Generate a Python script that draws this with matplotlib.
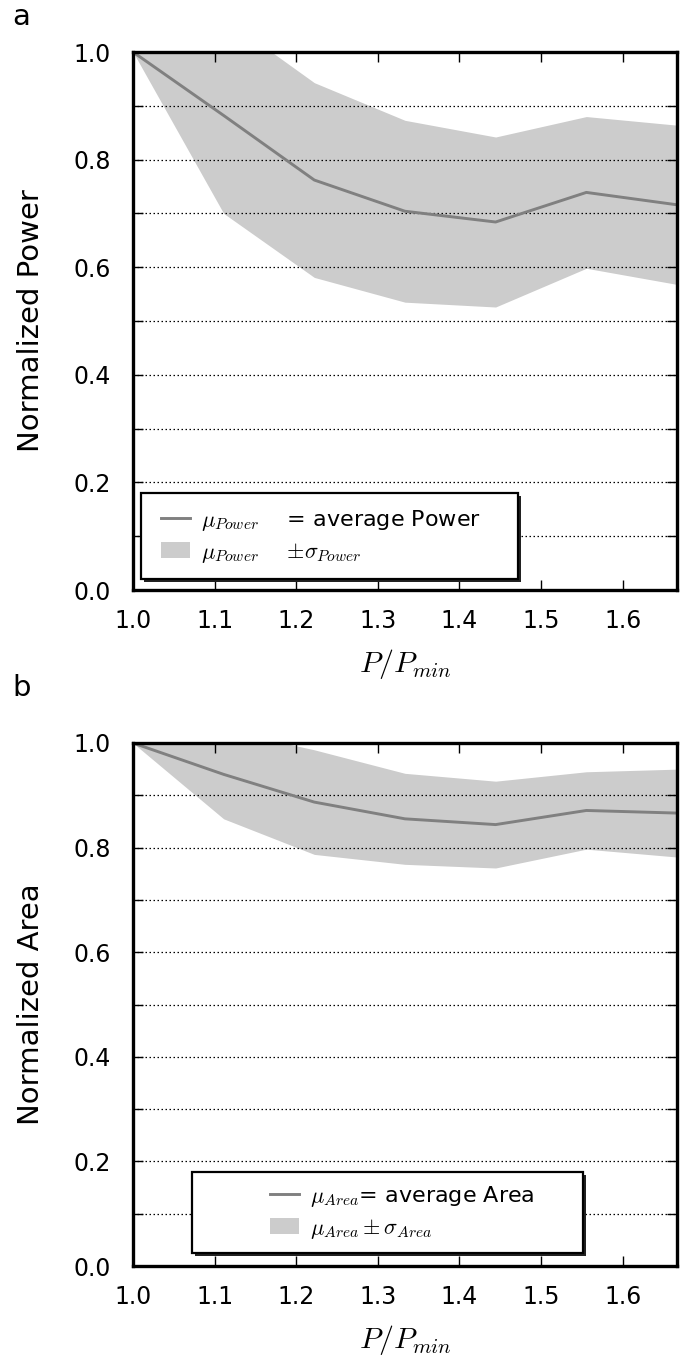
import matplotlib
matplotlib.use("Agg")
import matplotlib.pyplot as plt
import numpy as np
from matplotlib.patches import Rectangle
from matplotlib.lines import Line2D
from matplotlib.ticker import MultipleLocator

plt.rcParams['font.family'] = ['DejaVu Sans']
plt.rcParams['mathtext.fontset'] = 'cm'

# ---- data ----
ratio = [1.0, 1.1111, 1.2222, 1.3333, 1.4444, 1.5556, 1.6667]
power_mean = [1.0, 0.882, 0.762, 0.704, 0.684, 0.739, 0.716]
power_std = [0.0, 0.182, 0.181, 0.169, 0.158, 0.141, 0.148]
area_mean = [1.0, 0.940, 0.887, 0.855, 0.844, 0.871, 0.866]
area_std = [0.0, 0.085, 0.100, 0.087, 0.083, 0.074, 0.084]
x_ticks = [1.0, 1.1, 1.2, 1.3, 1.4, 1.5, 1.6]
y_ticks = [0.0, 0.2, 0.4, 0.6, 0.8, 1.0]

W, H = 682, 1356
fig = plt.figure(figsize=(W / 100, H / 100), dpi=100)

line_c = '#808080'
fill_c = '#cccccc'


def px_axes(left, top, right, bottom):
    return fig.add_axes([left / W, 1 - bottom / H, (right - left) / W, (bottom - top) / H])


def style(ax, ylabel):
    ax.set_xlim(1.0, 1.6667)
    ax.set_ylim(0.0, 1.0)
    ax.set_xticks(x_ticks)
    ax.set_xticklabels([f"{v:.1f}" for v in x_ticks])
    ax.set_yticks(y_ticks)
    ax.set_yticklabels([f"{v:.1f}" for v in y_ticks])
    ax.yaxis.set_minor_locator(MultipleLocator(0.1))
    ax.tick_params(which='both', direction='in', top=True, right=True,
                   length=7, width=1.0, labelsize=17)
    ax.tick_params(axis='x', pad=14)
    ax.tick_params(axis='y', pad=16)
    ax.set_axisbelow('line')
    ax.grid(True, which='both', axis='y', color='black', linestyle=(0, (1.2, 2.0)),
            linewidth=0.9)
    for s in ax.spines.values():
        s.set_linewidth(2.4)
        s.set_color('black')
    ax.set_ylabel(ylabel, fontsize=21, labelpad=20)
    ax.set_xlabel(r"$P/P_{min}$", fontsize=21.5, labelpad=10)


def frame(ax, x0, y0, x1, y1):
    tr = ax.transAxes
    dx = 3 / (ax.bbox.width)
    dy = 3 / (ax.bbox.height)
    sh = Rectangle((x0 + dx, y0 - dy), x1 - x0, y1 - y0, transform=tr,
                   facecolor='#222222', edgecolor='none', zorder=4.0, clip_on=False)
    fr = Rectangle((x0, y0), x1 - x0, y1 - y0, transform=tr,
                   facecolor='white', edgecolor='black', linewidth=1.6, zorder=4.1, clip_on=False)
    ax.add_patch(sh)
    ax.add_patch(fr)


# ---- panel a ----
ax1 = px_axes(133, 52, 677, 590)
pm = np.array(power_mean)
ps = np.array(power_std)
ax1.fill_between(ratio, pm - ps, pm + ps, color=fill_c, linewidth=0, zorder=1)
ax1.plot(ratio, pm, color=line_c, linewidth=2.1, zorder=2)
style(ax1, 'Normalized Power')
frame(ax1, 0.014, 0.020, 0.708, 0.180)
h1 = [Line2D([], [], color=line_c, linewidth=2.1),
      Rectangle((0, 0), 1, 1, facecolor=fill_c, edgecolor='none')]
leg1 = ax1.legend(h1, [r"$\mu_{Power}$    = average Power",
                       r"$\mu_{Power}$    $\pm\sigma_{Power}$"],
                  loc='center left', bbox_to_anchor=(0.052, 0.100), frameon=False,
                  fontsize=16, handlelength=1.3, handletextpad=0.5, labelspacing=0.35,
                  borderpad=0, borderaxespad=0)
leg1.set_zorder(5)

# ---- panel b ----
ax2 = px_axes(133, 743, 677, 1266)
am = np.array(area_mean)
asd = np.array(area_std)
ax2.fill_between(ratio, am - asd, am + asd, color=fill_c, linewidth=0, zorder=1)
ax2.plot(ratio, am, color=line_c, linewidth=2.1, zorder=2)
style(ax2, 'Normalized Area')
frame(ax2, 0.108, 0.025, 0.827, 0.180)
h2 = [Line2D([], [], color=line_c, linewidth=2.1),
      Rectangle((0, 0), 1, 1, facecolor=fill_c, edgecolor='none')]
leg2 = ax2.legend(h2, [r"$\mu_{Area}$= average Area",
                       r"$\mu_{Area}\pm\sigma_{Area}$"],
                  loc='center left', bbox_to_anchor=(0.252, 0.103), frameon=False,
                  fontsize=16, handlelength=1.3, handletextpad=0.5, labelspacing=0.35,
                  borderpad=0, borderaxespad=0)
leg2.set_zorder(5)

fig.text(12 / W, 1 - 17 / H, 'a', fontsize=21, va='center', ha='left')
fig.text(12 / W, 1 - 688 / H, 'b', fontsize=21, va='center', ha='left')

fig.savefig('out.png', dpi=100)
